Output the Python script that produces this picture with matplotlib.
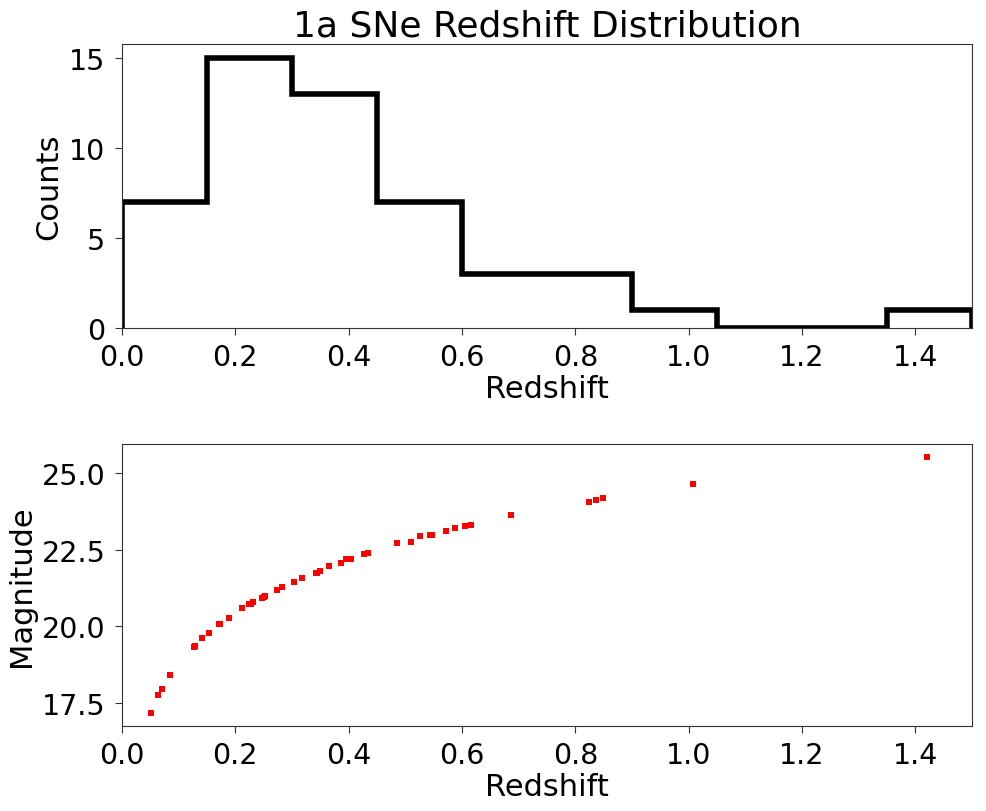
import numpy as np
import matplotlib
matplotlib.use("Agg")
import matplotlib.pyplot as plt

# redshift and apparent magnitude of the SNe
redshift = [0.051, 0.0635, 0.0706, 0.084, 0.127, 0.129, 0.141,
            0.153, 0.171, 0.172, 0.173, 0.189, 0.212, 0.225, 0.226, 0.227, 0.231,
            0.247, 0.250, 0.252, 0.274, 0.282,
            0.303, 0.317, 0.342, 0.343, 0.344, 0.349, 0.365, 0.386, 0.396, 0.400,
            0.405, 0.427, 0.434,
            0.485, 0.510, 0.526, 0.543, 0.547, 0.572, 0.588,
            0.605, 0.616, 0.686,
            0.824, 0.836, 0.849,
            1.007, 1.420]
magnitude = [17.16, 17.75, 17.95, 18.40, 19.32, 19.35, 19.61,
             19.77, 20.06, 20.06, 20.06, 20.26, 20.59, 20.72, 20.73, 20.74, 20.80,
             20.93, 20.96, 20.98, 21.17, 21.27,
             21.43, 21.56, 21.74, 21.74, 21.74, 21.79, 21.96, 22.05, 22.18, 22.18,
             22.18, 22.35, 22.38,
             22.71, 22.74, 22.93, 22.97, 22.97, 23.10, 23.19,
             23.26, 23.29, 23.62,
             24.07, 24.11, 24.17,
             24.65, 25.53]

bins = np.arange(0, 1.51, 0.15)
mag_ticks = [17.5, 20.0, 22.5, 25.0]

plt.rcParams['font.size'] = 20.5
plt.rcParams['axes.labelsize'] = 22
plt.rcParams['axes.edgecolor'] = '#333333'
plt.rcParams['xtick.color'] = '#333333'
plt.rcParams['ytick.color'] = '#333333'
plt.rcParams['xtick.labelcolor'] = 'black'
plt.rcParams['ytick.labelcolor'] = 'black'
plt.rcParams['xtick.major.size'] = 5
plt.rcParams['ytick.major.size'] = 5
plt.rcParams['xtick.major.pad'] = 6
plt.rcParams['ytick.major.pad'] = 7

fig = plt.figure(figsize=(9.86, 8.12), dpi=100)
ax1 = fig.add_axes([0.1237, 0.5948, 0.8621, 0.3498])
ax2 = fig.add_axes([0.1237, 0.1047, 0.8621, 0.3473])

ax1.hist(redshift, bins=bins, histtype='step', color='black', linewidth=4)
ax1.set_xlim(0, 1.5)
ax1.set_title('1a SNe Redshift Distribution', fontsize=26)
ax1.set_xlabel('Redshift', labelpad=2)
ax1.set_ylabel('Counts')

ax2.scatter(redshift, magnitude, marker='s', s=13, color='red', linewidths=0)
ax2.set_xlim(0, 1.5)
ax2.set_xticks(np.arange(0, 1.41, 0.2))
ax2.set_yticks(mag_ticks)
ax2.set_xlabel('Redshift', labelpad=2)
ax2.set_ylabel('Magnitude')

fig.savefig('out.png', dpi=100)
